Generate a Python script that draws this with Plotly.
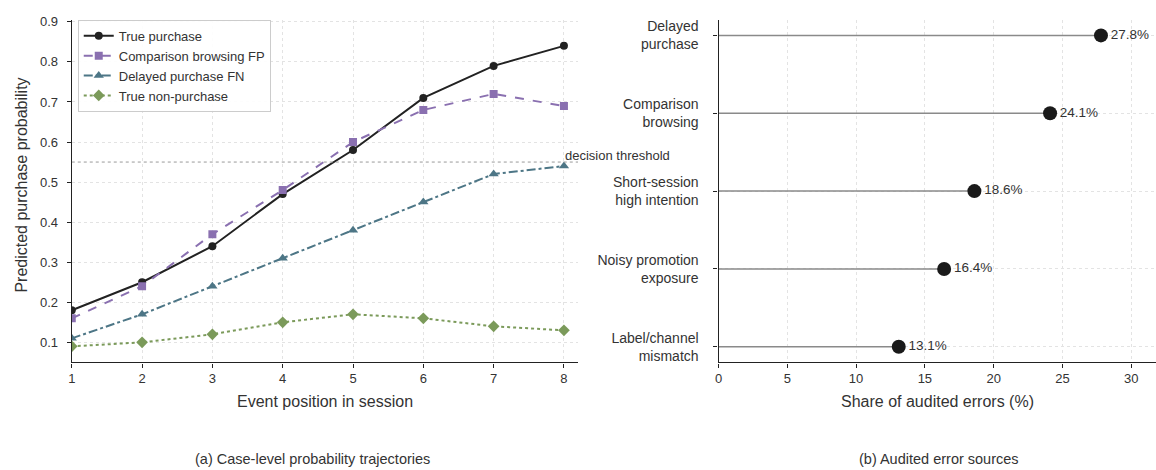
import plotly.graph_objects as go

# ---------------- data ----------------
positions = [1, 2, 3, 4, 5, 6, 7, 8]
true_purchase = [0.18, 0.25, 0.34, 0.47, 0.58, 0.71, 0.79, 0.84]
comparison_fp = [0.16, 0.24, 0.37, 0.48, 0.60, 0.68, 0.72, 0.69]
delayed_fn = [0.11, 0.17, 0.24, 0.31, 0.38, 0.45, 0.52, 0.54]
true_non = [0.09, 0.10, 0.12, 0.15, 0.17, 0.16, 0.14, 0.13]
threshold = 0.55

error_sources = ["Delayed<br>purchase", "Comparison<br>browsing", "Short-session<br>high intention",
                 "Noisy promotion<br>exposure", "Label/channel<br>mismatch"]
error_share = [27.8, 24.1, 18.6, 16.4, 13.1]

FONT = "Liberation Sans, Arial, sans-serif"
W, H = 1156, 470

def px_x(p):
    return p / W

def px_y(p):
    return 1 - p / H

fig = go.Figure()

series = [
    ("True purchase", true_purchase, "#222222", "solid", "circle", 8),
    ("Comparison browsing FP", comparison_fp, "#8a70b0", "dash", "square", 8),
    ("Delayed purchase FN", delayed_fn, "#4d7686", "dashdot", "triangle-up", 9),
    ("True non-purchase", true_non, "#7b9a5a", "dot", "diamond", 9),
]
for name, vals, col, dash, sym, sz in series:
    fig.add_trace(go.Scatter(
        x=positions, y=vals, name=name, mode="lines+markers",
        line=dict(color=col, width=2, dash=dash),
        marker=dict(color=col, symbol=sym, size=sz),
        xaxis="x", yaxis="y",
    ))

# lollipop stems
ycat = list(range(len(error_sources)))
for i, v in enumerate(error_share):
    fig.add_trace(go.Scatter(
        x=[0, v], y=[ycat[i], ycat[i]], mode="lines",
        line=dict(color="#8a8a8a", width=1.5), showlegend=False,
        hoverinfo="skip", xaxis="x2", yaxis="y2",
    ))
fig.add_trace(go.Scatter(
    x=error_share, y=ycat, mode="markers+text",
    marker=dict(color="#1a1a1a", size=14),
    text=[f"{v:.1f}%" for v in error_share], textposition="middle right",
    textfont=dict(family=FONT, size=13.5, color="#333333"),
    showlegend=False, xaxis="x2", yaxis="y2",
))

def axis_common(fs=13):
    return dict(
        showline=True, linecolor="#222222", linewidth=1.3,
        ticks="outside", ticklen=4, tickcolor="#222222",
        tickfont=dict(family=FONT, size=fs, color="#333333"),
        showgrid=True, gridcolor="#e3e3e3", griddash="dot", gridwidth=1,
        zeroline=False, mirror=False,
    )

fig.update_layout(
    width=W, height=H,
    margin=dict(l=0, r=0, t=0, b=0),
    paper_bgcolor="white", plot_bgcolor="white",
    font=dict(family=FONT, size=12, color="#333333"),
    xaxis=dict(domain=[px_x(68), px_x(576)], range=[1, 8.2],
               tickvals=positions, anchor="y", **axis_common()),
    yaxis=dict(domain=[px_y(362), px_y(15)], range=[0.05, 0.905],
               tickvals=[0.1, 0.2, 0.3, 0.4, 0.5, 0.6, 0.7, 0.8, 0.9],
               tickformat=".1f", anchor="x", ticklabelstandoff=6, **axis_common()),
    xaxis2=dict(domain=[px_x(717), 1.0], range=[0, 31.8],
                tickvals=[0, 5, 10, 15, 20, 25, 30], anchor="y2", **axis_common()),
    yaxis2=dict(domain=[px_y(362), px_y(15)], range=[4.2, -0.2],
                tickvals=ycat, ticktext=error_sources, anchor="x2",
                ticklabelstandoff=12, **axis_common(14)),
    legend=dict(x=px_x(74), y=px_y(15), xanchor="left", yanchor="top",
                bgcolor="rgba(255,255,255,0.9)", bordercolor="#cccccc", borderwidth=1,
                font=dict(family=FONT, size=13, color="#333333"),
                tracegroupgap=0, itemwidth=30),
    showlegend=True,
)

fig.add_shape(type="line", xref="x", yref="y", x0=1, x1=8.2, y0=threshold, y1=threshold,
              line=dict(color="#999999", width=1, dash="dot"))
fig.add_annotation(xref="x", yref="y", x=7.98, y=threshold, text="decision threshold",
                   showarrow=False, xanchor="left", yanchor="bottom", yshift=-3,
                   font=dict(family=FONT, size=13, color="#333333"))

annots = [
    (322, 402, "Event position in session", 16),
    (937, 402, "Share of audited errors (%)", 16),
    (310, 460, "(a) Case-level probability trajectories", 14.5),
    (938, 460, "(b) Audited error sources", 14.5),
]
for x, y, t, fs in annots:
    fig.add_annotation(xref="paper", yref="paper", x=px_x(x), y=px_y(y), text=t,
                       showarrow=False, xanchor="center", yanchor="middle",
                       font=dict(family=FONT, size=fs, color="#333333"))
fig.add_annotation(xref="paper", yref="paper", x=px_x(18), y=px_y(182),
                   text="Predicted purchase probability", textangle=-90,
                   showarrow=False, xanchor="center", yanchor="middle",
                   font=dict(family=FONT, size=16, color="#333333"))

fig.write_html("out.html")
